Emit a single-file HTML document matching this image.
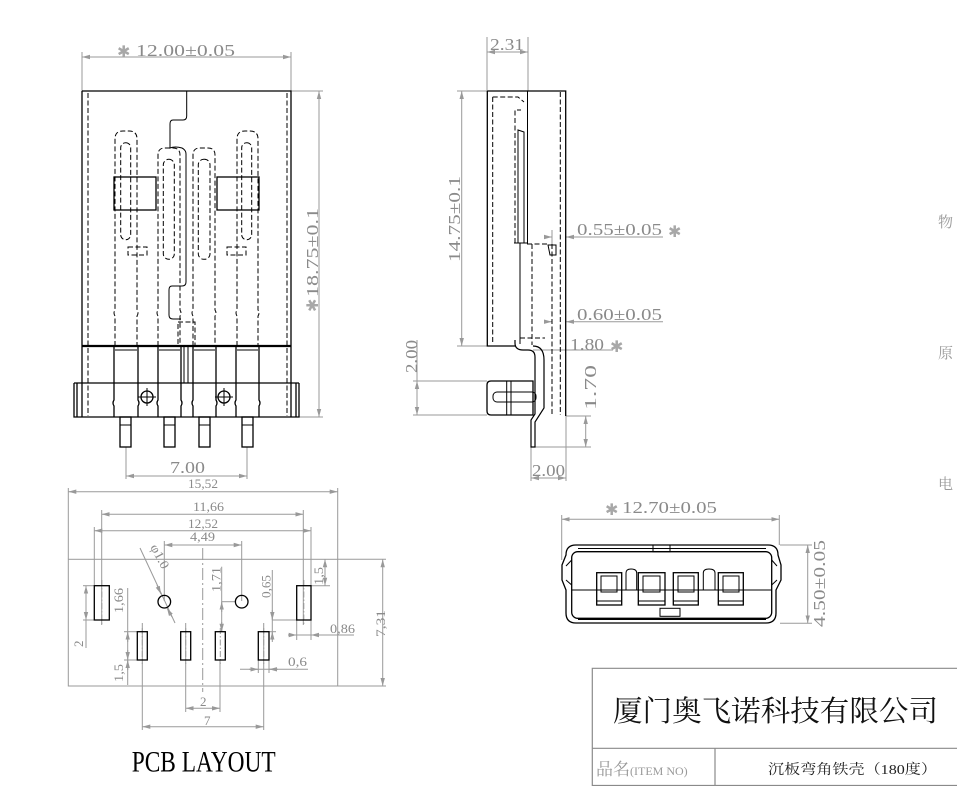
<!DOCTYPE html>
<html><head><meta charset="utf-8">
<style>
html,body{margin:0;padding:0;background:#fff;}
svg{display:block;}
.k{stroke:#000;fill:none;stroke-width:1.3}
.d{stroke:#000;fill:none;stroke-width:1;stroke-dasharray:5 2.5}
.g{stroke:#9a9a9a;fill:none;stroke-width:1}
.t{fill:#8a8a8a;font-family:"Liberation Serif",serif;font-size:17px}
.s{fill:#8a8a8a;font-family:"Liberation Serif",serif;font-size:13px}
.st{fill:#a8a8a8;font-family:"DejaVu Sans",sans-serif;font-size:16px}
</style></head><body>
<svg width="957" height="786" viewBox="0 0 957 786" xmlns="http://www.w3.org/2000/svg">
<defs>
<marker id="a" markerWidth="8" markerHeight="6" refX="8" refY="3" orient="auto-start-reverse" markerUnits="userSpaceOnUse"><path d="M0,0.8 L8,3 L0,5.2 z" fill="#999"/></marker>
</defs>

<!-- ================= FRONT VIEW ================= -->
<g class="g">
<line x1="82" y1="57" x2="291" y2="57" marker-start="url(#a)" marker-end="url(#a)"/>
<line x1="82" y1="52" x2="82" y2="91"/>
<line x1="291" y1="52" x2="291" y2="91"/>
<line x1="291" y1="91" x2="323" y2="91"/>
<line x1="299" y1="417" x2="323" y2="417"/>
<line x1="319" y1="91" x2="319" y2="417" marker-start="url(#a)" marker-end="url(#a)"/>
<line x1="126" y1="447" x2="126" y2="479"/>
<line x1="247" y1="447" x2="247" y2="479"/>
<line x1="126" y1="476" x2="247" y2="476" marker-start="url(#a)" marker-end="url(#a)"/>
</g>
<text class="st" x="117" y="57">✱</text>
<text class="t" x="136" y="56" textLength="99" lengthAdjust="spacingAndGlyphs">12.00±0.05</text>
<g transform="translate(318,312) rotate(-90)"><text class="st" x="0" y="0">✱</text><text class="t" x="15" y="0" textLength="89" lengthAdjust="spacingAndGlyphs">18.75±0.1</text></g>
<text class="t" x="170" y="473" textLength="35" lengthAdjust="spacingAndGlyphs">7.00</text>

<g class="k">
<path d="M82,91 H291 V417 M82,91 V417"/>
<line x1="82" y1="346" x2="291" y2="346" stroke-width="2.2"/>
<path d="M74,383 H299 M74,383 V417 H299 V383"/>
<line x1="77" y1="383" x2="77" y2="417"/>
<line x1="296" y1="383" x2="296" y2="417"/>
<rect x="114" y="177" width="42" height="33"/>
<rect x="217" y="177" width="42" height="33"/>
<path d="M114,346 V400 Q112,403 114,406 V417 M138,346 V400 Q140,403 138,406 V417"/>
<path d="M158,346 V400 Q156,403 158,406 V417 M181,346 V400 Q183,403 181,406 V417"/>
<path d="M193,346 V400 Q191,403 193,406 V417 M216,346 V400 Q218,403 216,406 V417"/>
<path d="M236,346 V400 Q234,403 236,406 V417 M259,346 V400 Q261,403 259,406 V417"/>
<path d="M115,350 H137 M159,350 H180 M194,350 H215 M237,350 H258" stroke-width="1"/>
<line x1="184" y1="346" x2="184" y2="383" stroke-width="1"/>
<line x1="188" y1="346" x2="188" y2="383" stroke-width="1"/>
<rect x="120" y="417" width="11" height="30"/>
<rect x="164" y="417" width="11" height="30"/>
<rect x="199" y="417" width="11" height="30"/>
<rect x="242" y="417" width="11" height="30"/>
<path d="M120,425 H131 M164,425 H175 M199,425 H210 M242,425 H253" stroke-width="1"/>
<circle cx="147" cy="397" r="6"/>
<path d="M138,397 H156 M147,388 V406" stroke-width="1"/>
<circle cx="224" cy="397" r="6"/>
<path d="M215,397 H233 M224,388 V406" stroke-width="1"/>
<path d="M186.7,91 V116 Q186.7,120 183,120 H173 Q170,120 170,124 V148 Q175,146 182,148 Q186,150 186,154 V282 Q186,286 182,286 H172 Q169,286 169,290 V315 Q169,319 173,319 H181" stroke-width="1"/>
</g>
<g class="d">
<line x1="88" y1="93" x2="88" y2="416"/>
<line x1="287" y1="93" x2="287" y2="416"/>
<path d="M115,346 V316 Q113,313 115,310 V139 Q115,131 123,131 H129 Q137,131 137,139 V310 Q139,313 137,316 V346"/>
<rect x="120.7" y="142.7" width="10" height="97" rx="5"/>
<path d="M158,346 V316 Q156,313 158,310 V155 Q158,148 165,148 H173 Q180,148 180,155 V310 Q182,313 180,316 V346"/>
<rect x="163.3" y="159.3" width="11" height="100" rx="5.5"/>
<path d="M193,346 V316 Q191,313 193,310 V155 Q193,148 200,148 H208 Q215,148 215,155 V310 Q217,313 215,316 V346"/>
<rect x="198.3" y="159.3" width="11.7" height="100" rx="5.5"/>
<path d="M237,346 V316 Q235,313 237,310 V139 Q237,131 245,131 H250 Q258,131 258,139 V310 Q260,313 258,316 V346"/>
<rect x="241.7" y="142.7" width="10" height="97" rx="5"/>
<rect x="128" y="247" width="19" height="8"/>
<rect x="227" y="247" width="19" height="8"/>
<rect x="178" y="322" width="17" height="24"/>
</g>

<!-- ================= SIDE VIEW ================= -->
<g class="g">
<line x1="487" y1="52" x2="528" y2="52" marker-start="url(#a)" marker-end="url(#a)"/>
<line x1="487" y1="37" x2="487" y2="91"/>
<line x1="528" y1="37" x2="528" y2="91"/>
<line x1="457" y1="91" x2="487" y2="91"/>
<line x1="457" y1="346" x2="487" y2="346"/>
<line x1="461.7" y1="91" x2="461.7" y2="346" marker-start="url(#a)" marker-end="url(#a)"/>
<line x1="566" y1="237" x2="663" y2="237" marker-start="url(#a)"/>
<line x1="545" y1="237" x2="552" y2="237" marker-end="url(#a)"/>
<line x1="552" y1="230" x2="552" y2="244"/>
<line x1="566" y1="321.7" x2="663" y2="321.7" marker-start="url(#a)"/>
<line x1="545" y1="321.7" x2="552" y2="321.7" marker-end="url(#a)"/>
<line x1="533" y1="350" x2="613" y2="350"/>
<line x1="566" y1="416" x2="591" y2="416"/>
<line x1="535" y1="447" x2="591" y2="447"/>
<line x1="585.7" y1="416" x2="585.7" y2="447" marker-start="url(#a)" marker-end="url(#a)"/>
<line x1="413" y1="381" x2="487" y2="381"/>
<line x1="413" y1="415" x2="487" y2="415"/>
<line x1="417" y1="340" x2="417" y2="381"/>
<line x1="417" y1="381" x2="417" y2="415" marker-start="url(#a)" marker-end="url(#a)"/>
<line x1="531" y1="447" x2="531" y2="481"/>
<line x1="566" y1="416" x2="566" y2="481"/>
<line x1="531" y1="478" x2="566" y2="478" marker-start="url(#a)" marker-end="url(#a)"/>
</g>
<text class="t" x="490" y="50" textLength="34" lengthAdjust="spacingAndGlyphs">2.31</text>
<text class="t" transform="translate(460,262) rotate(-90)" textLength="86" lengthAdjust="spacingAndGlyphs">14.75±0.1</text>
<text class="t" x="577" y="235" textLength="85" lengthAdjust="spacingAndGlyphs">0.55±0.05</text>
<text class="st" x="668" y="237">✱</text>
<text class="t" x="577" y="320" textLength="85" lengthAdjust="spacingAndGlyphs">0.60±0.05</text>
<text class="t" x="570" y="350" textLength="34" lengthAdjust="spacingAndGlyphs">1.80</text>
<text class="st" x="610" y="352">✱</text>
<text class="t" transform="translate(596,410) rotate(-90)" textLength="45" lengthAdjust="spacingAndGlyphs">1.70</text>
<text class="t" transform="translate(417,373) rotate(-90)" textLength="33" lengthAdjust="spacingAndGlyphs">2.00</text>
<text class="t" x="532" y="476" textLength="33" lengthAdjust="spacingAndGlyphs">2.00</text>

<g class="k">
<path d="M487.3,91 H565.7 V416 M487.3,91 V346 H515"/>
<line x1="527.5" y1="91" x2="527.5" y2="243" stroke-width="1"/>
<path d="M518,130 V243 H524 V132 Z" stroke-width="1"/>
<line x1="514" y1="243" x2="528" y2="243" stroke-width="1"/>
<line x1="520" y1="243" x2="520" y2="344" stroke-width="1"/>
<path d="M515,340 V343 Q515,350 523,350 H528 Q535,350 535,357 V414 L531,420 V447 H535 V422 L544,408 V360 Q544,346 533,346" stroke-width="1.2"/>
<path d="M491,381 H533 V415 H491 Q487,415 487,411 V385 Q487,381 491,381 Z"/>
<rect x="493" y="392" width="43" height="10" rx="4" stroke-width="1"/>
<line x1="506.7" y1="381" x2="506.7" y2="415" stroke-width="1"/>
<line x1="511" y1="381" x2="511" y2="415" stroke-width="1"/>
<path d="M548,245 H556 V255 H550 Z" stroke-width="1"/>
</g>
<g class="d">
<line x1="492.7" y1="97" x2="492.7" y2="343"/>
<path d="M492.7,97 H518 L524,102"/>
<path d="M515,243 V110 H521"/>
<line x1="527" y1="244" x2="548" y2="244"/>
<line x1="532" y1="244" x2="532" y2="345"/>
<line x1="552" y1="244" x2="552" y2="415"/>
<line x1="560.3" y1="92" x2="560.3" y2="415"/>
<line x1="520" y1="338" x2="545" y2="338"/>
</g>

<!-- ================= PCB LAYOUT ================= -->
<g class="g">
<rect x="68.3" y="559.3" width="269.4" height="126.7"/>
<line x1="68.3" y1="491.7" x2="337.7" y2="491.7" marker-start="url(#a)" marker-end="url(#a)"/>
<line x1="68.3" y1="488" x2="68.3" y2="559"/>
<line x1="337.7" y1="488" x2="337.7" y2="559"/>
<line x1="101.7" y1="514.3" x2="303.3" y2="514.3" marker-start="url(#a)" marker-end="url(#a)"/>
<line x1="101.7" y1="510" x2="101.7" y2="625"/>
<line x1="303.3" y1="510" x2="303.3" y2="625"/>
<line x1="94.3" y1="530.7" x2="311" y2="530.7" marker-start="url(#a)" marker-end="url(#a)"/>
<line x1="94.3" y1="527" x2="94.3" y2="585"/>
<line x1="311" y1="527" x2="311" y2="585"/>
<line x1="164.3" y1="545" x2="241.7" y2="545" marker-start="url(#a)" marker-end="url(#a)"/>
<line x1="164.3" y1="541" x2="164.3" y2="601"/>
<line x1="241.7" y1="541" x2="241.7" y2="601"/>
<line x1="202.7" y1="548" x2="202.7" y2="692" stroke-dasharray="12 3 2 3"/>
<line x1="83" y1="585.7" x2="94" y2="585.7"/>
<line x1="83" y1="620" x2="94" y2="620"/>
<line x1="86" y1="585.7" x2="86" y2="648"/>
<line x1="86" y1="598" x2="86" y2="585.7" marker-end="url(#a)"/>
<line x1="86" y1="608" x2="86" y2="620" marker-end="url(#a)"/>
<line x1="127.7" y1="588" x2="127.7" y2="685"/>
<line x1="124" y1="631.7" x2="137" y2="631.7"/>
<line x1="124" y1="660" x2="137" y2="660"/>
<line x1="127.7" y1="642" x2="127.7" y2="631.7" marker-end="url(#a)"/>
<line x1="127.7" y1="650" x2="127.7" y2="660" marker-end="url(#a)"/>
<line x1="127.7" y1="670" x2="127.7" y2="660" marker-end="url(#a)"/>
<line x1="221.7" y1="566.7" x2="221.7" y2="631"/>
<line x1="221.7" y1="601.7" x2="235" y2="601.7"/>
<line x1="221.7" y1="612" x2="221.7" y2="601.7" marker-end="url(#a)"/>
<line x1="221.7" y1="622" x2="221.7" y2="631.7" marker-end="url(#a)"/>
<line x1="272.3" y1="570" x2="272.3" y2="640"/>
<line x1="272" y1="620" x2="297" y2="620"/>
<line x1="269" y1="631.7" x2="276" y2="631.7"/>
<line x1="272.3" y1="610" x2="272.3" y2="620" marker-end="url(#a)"/>
<line x1="272.3" y1="642" x2="272.3" y2="631.7" marker-end="url(#a)"/>
<line x1="311" y1="585.7" x2="330" y2="585.7"/>
<line x1="325" y1="559.3" x2="325" y2="585.7" marker-start="url(#a)" marker-end="url(#a)"/>
<line x1="288" y1="635" x2="354" y2="635"/>
<line x1="296.7" y1="620" x2="296.7" y2="640"/>
<line x1="311" y1="620" x2="311" y2="640"/>
<line x1="288" y1="635" x2="296.7" y2="635" marker-end="url(#a)"/>
<line x1="320" y1="635" x2="311" y2="635" marker-end="url(#a)"/>
<line x1="240" y1="669.3" x2="308" y2="669.3"/>
<line x1="258.3" y1="660" x2="258.3" y2="673"/>
<line x1="269" y1="660" x2="269" y2="673"/>
<line x1="249" y1="669.3" x2="258.3" y2="669.3" marker-end="url(#a)"/>
<line x1="278" y1="669.3" x2="269" y2="669.3" marker-end="url(#a)"/>
<line x1="338" y1="559.3" x2="386" y2="559.3"/>
<line x1="338" y1="686" x2="386" y2="686"/>
<line x1="382.7" y1="559.3" x2="382.7" y2="686" marker-start="url(#a)" marker-end="url(#a)"/>
<line x1="142.3" y1="623" x2="142.3" y2="730"/>
<line x1="263.7" y1="623" x2="263.7" y2="730"/>
<line x1="185.7" y1="623" x2="185.7" y2="712"/>
<line x1="220" y1="660" x2="220" y2="712"/>
<line x1="185.7" y1="708.3" x2="220" y2="708.3" marker-start="url(#a)" marker-end="url(#a)"/>
<line x1="142.3" y1="726.7" x2="263.7" y2="726.7" marker-start="url(#a)" marker-end="url(#a)"/>
<line x1="140" y1="548" x2="175" y2="623"/>
<line x1="157" y1="585" x2="161" y2="594" marker-end="url(#a)"/>
<line x1="172" y1="617" x2="167" y2="608" marker-end="url(#a)"/>
<g stroke-dasharray="6 2 1.5 2">
<line x1="101.8" y1="580" x2="101.8" y2="626"/>
<line x1="303.8" y1="580" x2="303.8" y2="626"/>
<line x1="142.3" y1="628" x2="142.3" y2="664"/>
<line x1="185.7" y1="628" x2="185.7" y2="664"/>
<line x1="220.3" y1="628" x2="220.3" y2="664"/>
<line x1="263.7" y1="628" x2="263.7" y2="664"/>
</g>
</g>
<g class="k">
<rect x="94.3" y="585.7" width="15" height="34.3"/>
<rect x="296.7" y="585.7" width="14.3" height="34.3"/>
<circle cx="164.3" cy="601.7" r="6.3"/>
<circle cx="241.7" cy="601.7" r="6.3"/>
<rect x="137.3" y="631.7" width="10" height="28.3"/>
<rect x="180.7" y="631.7" width="10" height="28.3"/>
<rect x="215.3" y="631.7" width="10" height="28.3"/>
<rect x="258.3" y="631.7" width="10.7" height="28.3"/>
</g>
<text class="s" x="188" y="488" textLength="30" lengthAdjust="spacingAndGlyphs">15,52</text>
<text class="s" x="193" y="511" textLength="31" lengthAdjust="spacingAndGlyphs">11,66</text>
<text class="s" x="188" y="528" textLength="30" lengthAdjust="spacingAndGlyphs">12,52</text>
<text class="s" x="190" y="541" textLength="25" lengthAdjust="spacingAndGlyphs">4,49</text>
<text class="s" transform="translate(123,613) rotate(-90)" textLength="25" lengthAdjust="spacingAndGlyphs">1,66</text>
<text class="s" transform="translate(83,647) rotate(-90)">2</text>
<text class="s" transform="translate(123,682) rotate(-90)" textLength="18" lengthAdjust="spacingAndGlyphs">1,5</text>
<text class="s" transform="translate(220.7,592) rotate(-90)" textLength="25" lengthAdjust="spacingAndGlyphs">1,71</text>
<text class="s" transform="translate(270.7,598) rotate(-90)" textLength="23" lengthAdjust="spacingAndGlyphs">0,65</text>
<text class="s" transform="translate(323,585) rotate(-90)" textLength="18" lengthAdjust="spacingAndGlyphs">1,5</text>
<text class="s" x="330" y="633" textLength="25" lengthAdjust="spacingAndGlyphs">0,86</text>
<text class="s" x="288" y="666" textLength="19" lengthAdjust="spacingAndGlyphs">0,6</text>
<text class="s" transform="translate(385,637) rotate(-90)" textLength="27" lengthAdjust="spacingAndGlyphs">7,31</text>
<text class="s" x="200" y="706">2</text>
<text class="s" x="204" y="725">7</text>
<text class="s" transform="translate(150,547) rotate(62)" textLength="26" lengthAdjust="spacingAndGlyphs">φ1.0</text>
<text x="131.7" y="771.5" font-family="Liberation Serif, serif" font-size="30" fill="#000" textLength="144" lengthAdjust="spacingAndGlyphs">PCB LAYOUT</text>

<!-- ================= END VIEW ================= -->
<g class="g">
<line x1="561.7" y1="519.3" x2="779.3" y2="519.3" marker-start="url(#a)" marker-end="url(#a)"/>
<line x1="561.7" y1="515" x2="561.7" y2="560"/>
<line x1="779.3" y1="515" x2="779.3" y2="545"/>
<line x1="780" y1="545" x2="812" y2="545"/>
<line x1="780" y1="623.3" x2="812" y2="623.3"/>
<line x1="807.7" y1="545" x2="807.7" y2="623.3" marker-start="url(#a)" marker-end="url(#a)"/>
</g>
<text class="st" x="605" y="515">✱</text>
<text class="t" x="622" y="513" textLength="95" lengthAdjust="spacingAndGlyphs">12.70±0.05</text>
<text class="t" transform="translate(825,627) rotate(-90)" textLength="87" lengthAdjust="spacingAndGlyphs">4.50±0.05</text>
<g class="k">
<path d="M576,545 H768 Q778,545 778,555 L781,565 L781,580 L776,590 V613 Q776,623 766,623 H576 Q566,623 566,613 V590 L562,580 L562,565 L566,555 Q566,545 576,545 Z"/>
<path d="M578,548.5 H766 M578,619.5 H766" stroke-width="1"/>
<rect x="571.7" y="551.7" width="200" height="66.6" rx="6"/>
<path d="M571.7,560 L566,566 M771.7,560 L777,566 M571.7,585 L566,580 M771.7,585 L777,580" stroke-width="1"/>
<rect x="653" y="545" width="17" height="6.7" stroke-width="1"/>
<rect x="660" y="608.3" width="20" height="8" stroke-width="1"/>
<line x1="572" y1="590" x2="772" y2="590" stroke-width="1"/>
<rect x="596.7" y="572.7" width="25" height="32.3"/>
<rect x="638.3" y="572.7" width="26.7" height="32.3"/>
<rect x="673.3" y="572.7" width="25" height="32.3"/>
<rect x="718.3" y="572.7" width="25" height="32.3"/>
<path d="M601,576 H617 V592 H601 Z M643,576 H660 V592 H643 Z M678,576 H694 V592 H678 Z M723,576 H739 V592 H723 Z" stroke-width="1"/>
<path d="M596.7,601 H621.7 M638.3,601 H665 M673.3,601 H698.3 M718.3,601 H743.3" stroke-width="1"/>
<path d="M626,590 V573 Q626,569 631,569 Q636.7,569 636.7,573 V590" stroke-width="1"/>
<path d="M703.3,590 V573 Q703.3,569 709,569 Q715,569 715,573 V590" stroke-width="1"/>
</g>

<!-- ================= TITLE BLOCK ================= -->
<g stroke="#8a8a8a" stroke-width="1.2" fill="none">
<path d="M592.3,786 V668.3 H957"/>
<line x1="592.3" y1="748.3" x2="957" y2="748.3"/>
<line x1="715" y1="748.3" x2="715" y2="786"/>
<line x1="592.3" y1="785.5" x2="957" y2="785.5"/>
</g>
<text x="613" y="721" font-family="Liberation Serif, 'Noto Serif CJK SC', serif" font-size="29" fill="#111" textLength="325" lengthAdjust="spacingAndGlyphs">厦门奥飞诺科技有限公司</text>
<text x="596" y="775" font-family="Liberation Serif, 'Noto Serif CJK SC', serif" font-size="17" fill="#999">品名<tspan font-size="12">(ITEM NO)</tspan></text>
<text x="768" y="774" font-family="Liberation Serif, 'Noto Serif CJK SC', serif" font-size="14" fill="#222" textLength="169" lengthAdjust="spacingAndGlyphs">沉板弯角铁壳（180度）</text>

<text x="938" y="227" font-family="'Noto Serif CJK SC', serif" font-size="15" fill="#999">物</text>
<text x="938" y="358" font-family="'Noto Serif CJK SC', serif" font-size="15" fill="#999">原</text>
<text x="938" y="489" font-family="'Noto Serif CJK SC', serif" font-size="15" fill="#999">电</text>
</svg>
</body></html>
